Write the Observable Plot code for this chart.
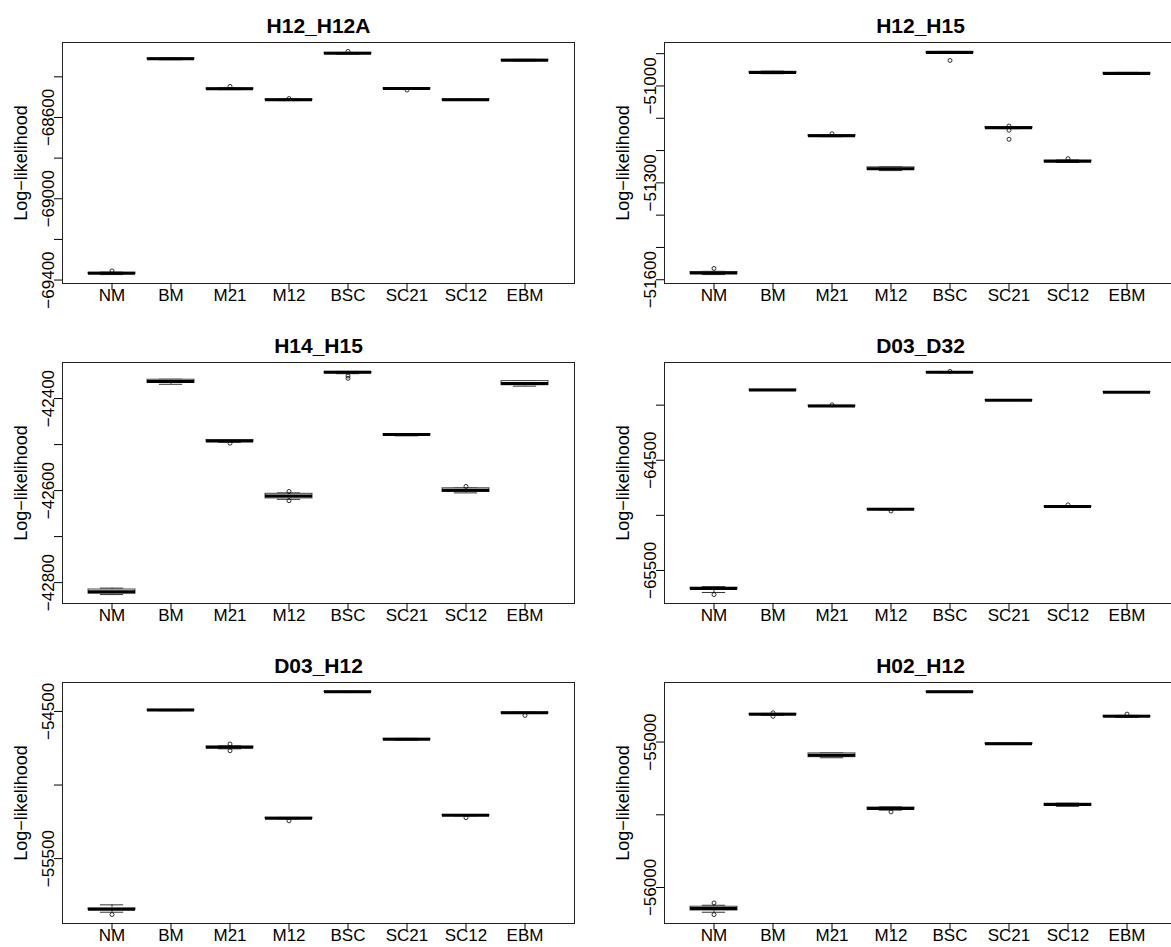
<!DOCTYPE html>
<html>
<head>
<meta charset="utf-8">
<script src="https://cdn.jsdelivr.net/npm/d3@7"></script>
<script src="https://cdn.jsdelivr.net/npm/@observablehq/plot@0.6"></script>
<style>
  html, body { margin: 0; padding: 0; background: #fff; }
  #grid { position: relative; width: 1171px; height: 947px; overflow: hidden; background: #fff; }
  #grid > svg { position: absolute; }
</style>
</head>
<body>
<div id="grid"></div>
<script>
// Models compared in every panel (x categories)
const models = ["NM", "BM", "M21", "M12", "BSC", "SC21", "SC12", "EBM"];

// Population pairs, one panel each (row by row)
const panelTitles = ["H12_H12A", "H12_H15", "H14_H15", "D03_D32", "D03_H12", "H02_H12"];

// Box statistics of the log-likelihood over replicate runs, one row per panel, one value per model
const medians = [
  [-69367, -68311, -68459, -68513, -68284, -68458, -68513, -68318],
  [-51579, -50958, -51154, -51256, -50896, -51129, -51233, -50961],
  [-42820, -42363, -42492, -42612, -42343, -42478, -42599, -42367],
  [-65664, -63862, -64007, -64945, -63702, -63956, -64920, -63883],
  [-55843, -54491, -54743, -55225, -54366, -54689, -55205, -54509],
  [-56145, -54809, -55090, -55457, -54655, -55011, -55430, -54823]
];
const upperQuartiles = [
  [-69364, -68309, -68457, -68511, -68282, -68456, -68511, -68316],
  [-51576, -50956, -51152, -51252, -50894, -51127, -51231, -50959],
  [-42815, -42359, -42490, -42607, -42342, -42477, -42595, -42362],
  [-65656, -63860, -64005, -64942, -63700, -63955, -64918, -63882],
  [-55838, -54489, -54738, -55222, -54365, -54686, -55203, -54507],
  [-56132, -54806, -55078, -55450, -54654, -55009, -55424, -54820]
];
const lowerQuartiles = [
  [-69370, -68313, -68461, -68515, -68286, -68460, -68515, -68320],
  [-51582, -50960, -51156, -51260, -50898, -51131, -51235, -50963],
  [-42824, -42366, -42494, -42617, -42345, -42480, -42603, -42371],
  [-65670, -63864, -64009, -64948, -63704, -63957, -64922, -63884],
  [-55848, -54493, -54749, -55228, -54367, -54692, -55207, -54512],
  [-56158, -54813, -55104, -55464, -54657, -55013, -55438, -54827]
];
const whiskerHigh = [
  [-69361, -68307, -68454, -68509, -68280, -68454, -68510, -68314],
  [-51574, -50954, -51151, -51250, -50893, -51126, -51229, -50958],
  [-42812, -42358, -42489, -42605, -42341, -42476, -42594, -42361],
  [-65646, -63858, -64003, -64940, -63698, -63954, -64916, -63881],
  [-55814, -54487, -54733, -55220, -54364, -54683, -55201, -54505],
  [-56122, -54803, -55074, -55445, -54652, -55007, -55420, -54817]
];
const whiskerLow = [
  [-69373, -68316, -68463, -68517, -68288, -68462, -68516, -68322],
  [-51584, -50962, -51157, -51262, -50899, -51132, -51237, -50964],
  [-42826, -42369, -42495, -42619, -42346, -42481, -42605, -42373],
  [-65700, -63866, -64011, -64950, -63706, -63958, -64924, -63885],
  [-55864, -54495, -54754, -55230, -54368, -54695, -55209, -54514],
  [-56170, -54816, -55108, -55468, -54659, -55015, -55442, -54830]
];

// Outlying runs per panel: [model, log-likelihood]
const outlierValues = [
  [["NM", -69355], ["M21", -68447], ["M12", -68507], ["BSC", -68275], ["SC21", -68465]],
  [["NM", -51565], ["M21", -51148], ["BSC", -50921], ["SC21", -51124], ["SC21", -51137], ["SC21", -51165], ["SC12", -51225]],
  [["M21", -42497], ["M12", -42602], ["M12", -42622], ["BSC", -42351], ["BSC", -42356], ["SC12", -42591]],
  [["NM", -65719], ["M21", -63997], ["M12", -64960], ["BSC", -63694], ["SC12", -64905]],
  [["NM", -55880], ["M21", -54721], ["M21", -54767], ["M12", -55243], ["SC12", -55222], ["EBM", -54527]],
  [["NM", -56106], ["NM", -56186], ["BM", -54799], ["BM", -54823], ["M12", -55480], ["EBM", -54808]]
];

// Y-axis tick marks and the subset that carries a label
const yTicks = [
  [-68400, -68600, -68800, -69000, -69200, -69400],
  [-50900, -51000, -51100, -51200, -51300, -51400, -51500, -51600],
  [-42400, -42500, -42600, -42700, -42800],
  [-64000, -64500, -65000, -65500],
  [-54500, -55000, -55500],
  [-55000, -55500, -56000]
];
const yTickLabels = [
  [-68600, -69000, -69400],
  [-51000, -51300, -51600],
  [-42400, -42600, -42800],
  [-64500, -65500],
  [-54500, -55500],
  [-55000, -56000]
];

// Layout of the 3 x 2 grid
const cellW = 602, cellH = 320;
const mL = 62, mR = 28, mT = 42, mB = 37;
const padInner = 0.2, padOuter = 0.42;
const step = (cellW - mL - mR) / (models.length - padInner + 2 * padOuter);
const stapleInset = step * (1 - padInner) / 4;   // staples are half the box width
const font = "'Liberation Sans', Arial, Helvetica, sans-serif";
const fmt = d => String(d).replace("-", "\u2212");

function panel(p) {
  const rows = models.map((model, i) => ({
    model,
    med: medians[p][i],
    q1: lowerQuartiles[p][i],
    q3: upperQuartiles[p][i],
    lo: whiskerLow[p][i],
    hi: whiskerHigh[p][i]
  }));
  const outs = outlierValues[p].map(([model, value]) => ({model, value}));
  // R-style range: data extent extended by 4% on each side
  const [ymin, ymax] = d3.extent(rows.flatMap(r => [r.lo, r.hi]).concat(outs.map(o => o.value)));
  const ext = 0.04 * (ymax - ymin);

  return Plot.plot({
    width: cellW,
    height: cellH,
    marginLeft: mL,
    marginRight: mR,
    marginTop: mT,
    marginBottom: mB,
    style: {fontFamily: font, fontSize: "17px", background: "transparent", color: "black", overflow: "visible"},
    x: {type: "band", domain: models, paddingInner: padInner, paddingOuter: padOuter, align: 0.5, label: null},
    y: {domain: [ymin - ext, ymax + ext], label: null},
    marks: [
      // whiskers
      Plot.ruleX(rows, {x: "model", y1: "lo", y2: "hi", stroke: "#222", strokeWidth: 1, strokeDasharray: "3,2"}),
      // staples
      Plot.tickY(rows, {x: "model", y: "lo", insetLeft: stapleInset, insetRight: stapleInset, stroke: "#333", strokeWidth: 1}),
      Plot.tickY(rows, {x: "model", y: "hi", insetLeft: stapleInset, insetRight: stapleInset, stroke: "#333", strokeWidth: 1}),
      // boxes
      Plot.barY(rows, {x: "model", y1: "q1", y2: "q3", fill: "white", stroke: "#444", strokeWidth: 1}),
      // medians
      Plot.tickY(rows, {x: "model", y: "med", stroke: "black", strokeWidth: 3}),
      // outliers
      Plot.dot(outs, {x: "model", y: "value", r: 2, stroke: "black", strokeWidth: 0.8, fill: "none"}),
      Plot.frame({stroke: "#222", strokeWidth: 1}),
      Plot.axisX({tickSize: 7, tickPadding: -2, fontSize: 17, label: null}),
      Plot.axisY(yTicks[p], {tickSize: 8, tickFormat: () => "", label: null}),
      Plot.text(yTickLabels[p], {
        y: d => d, text: d => fmt(d), frameAnchor: "left", rotate: -90,
        textAnchor: "middle", lineAnchor: "bottom", dx: -9, fontSize: 17
      }),
      Plot.text(["Log\u2212likelihood"], {
        text: d => d, frameAnchor: "left", rotate: -90, textAnchor: "middle",
        lineAnchor: "middle", dx: -41, fontSize: 18
      }),
      Plot.text([panelTitles[p]], {
        text: d => d, frameAnchor: "top", lineAnchor: "bottom", dy: -10,
        fontSize: 21, fontWeight: "bold"
      })
    ]
  });
}

const grid = document.getElementById("grid");
panelTitles.forEach((t, p) => {
  const svg = panel(p);
  svg.style.left = `${(p % 2) * cellW}px`;
  svg.style.top = `${Math.floor(p / 2) * cellH}px`;
  grid.appendChild(svg);
});
</script>
</body>
</html>
